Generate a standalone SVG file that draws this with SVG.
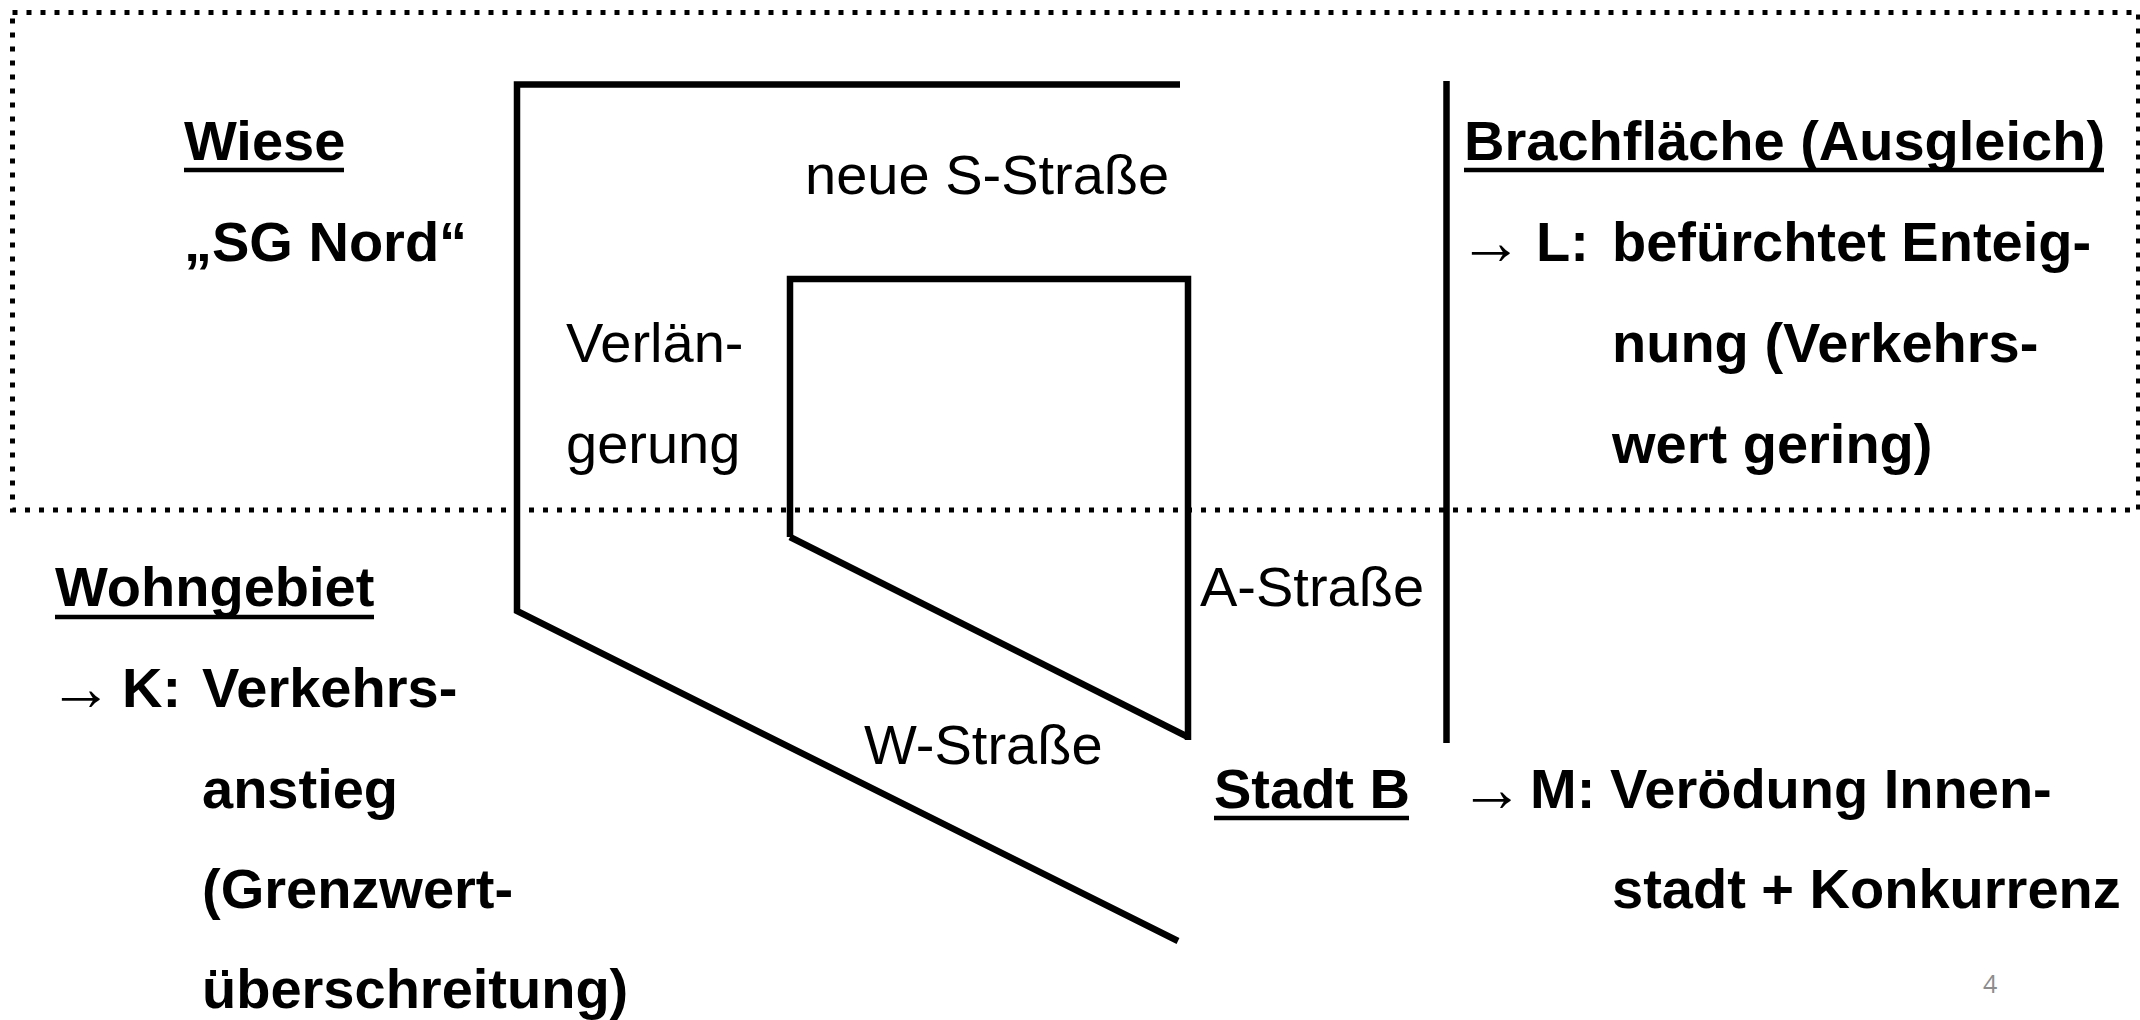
<svg xmlns="http://www.w3.org/2000/svg" width="2140" height="1020" viewBox="0 0 2140 1020">
  <style>
    .lbl { font-family: "Liberation Sans", Arial, sans-serif; font-size: 56px; fill: #000; }
    .b { font-weight: bold; }
    .arr { font-family: "Liberation Serif", "Times New Roman", serif; font-size: 66px; fill: #000; }
    .road { fill: none; stroke: #000; stroke-width: 6.5; stroke-linejoin: miter; stroke-linecap: butt; }
    .ul { stroke: #000; stroke-width: 4.5; }
    .zone { fill: none; stroke: #000; stroke-width: 5; stroke-dasharray: 5 9; }
    .page { font-family: "Open Sans", "Noto Sans", sans-serif; font-size: 25px; fill: #8c8c8c; }
  </style>

  <rect id="white-bg" x="0" y="0" width="2140" height="1020" fill="#fff"/>

  <!-- dotted planning zone in the north -->
  <rect id="zone-north" class="zone" x="12.5" y="12.5" width="2126" height="497.5"/>

  <!-- streets -->
  <g id="connectors">
    <!-- new S-street + extension + W-street -->
    <polyline class="road" points="1180,84.5 517,84.5 517,611 1178,941"/>
    <!-- inner block: S-street extension and A-street -->
    <polyline class="road" points="790,537 790,279 1188,279 1188,740"/>
    <line class="road" x1="790" y1="537" x2="1188" y2="737"/>
    <!-- divider -->
    <line class="road" x1="1446.5" y1="81" x2="1446.5" y2="743"/>
  </g>

  <g id="wiese">
    <text class="lbl b" x="184" y="160">Wiese</text>
    <line class="ul" x1="184" y1="170" x2="344" y2="170"/>
    <text class="lbl b" x="184" y="261">„SG Nord“</text>
  </g>

  <g id="road-labels">
    <text class="lbl" x="805" y="194">neue S-Straße</text>
    <text class="lbl" x="566" y="362">Verlän-</text>
    <text class="lbl" x="566" y="463">gerung</text>
    <text class="lbl" x="1200" y="606">A-Straße</text>
    <text class="lbl" x="864" y="764">W-Straße</text>
  </g>

  <g id="brachflaeche">
    <text class="lbl b" x="1464" y="160">Brachfläche (Ausgleich)</text>
    <line class="ul" x1="1464" y1="170" x2="2104" y2="170"/>
    <text class="arr" x="1459" y="264" textLength="64" lengthAdjust="spacingAndGlyphs">→</text>
    <text class="lbl b" x="1536" y="261">L:</text>
    <text class="lbl b" x="1612" y="261">befürchtet Enteig-</text>
    <text class="lbl b" x="1612" y="362">nung (Verkehrs-</text>
    <text class="lbl b" x="1612" y="463">wert gering)</text>
  </g>

  <g id="wohngebiet">
    <text class="lbl b" x="55" y="606">Wohngebiet</text>
    <line class="ul" x1="55" y1="617" x2="374" y2="617"/>
    <text class="arr" x="49" y="710" textLength="64" lengthAdjust="spacingAndGlyphs">→</text>
    <text class="lbl b" x="122" y="707">K:</text>
    <text class="lbl b" x="202" y="707">Verkehrs-</text>
    <text class="lbl b" x="202" y="808">anstieg</text>
    <text class="lbl b" x="202" y="908">(Grenzwert-</text>
    <text class="lbl b" x="202" y="1008">überschreitung)</text>
  </g>

  <g id="stadt-b">
    <text class="lbl b" x="1214" y="808">Stadt B</text>
    <line class="ul" x1="1214" y1="818" x2="1409" y2="818"/>
    <text class="arr" x="1460" y="811" textLength="64" lengthAdjust="spacingAndGlyphs">→</text>
    <text class="lbl b" x="1530" y="808">M:</text>
    <text class="lbl b" x="1610" y="808">Verödung Innen-</text>
    <text class="lbl b" x="1612" y="908">stadt + Konkurrenz</text>
  </g>

  <text id="page-number" class="page" x="1983" y="993">4</text>
</svg>
